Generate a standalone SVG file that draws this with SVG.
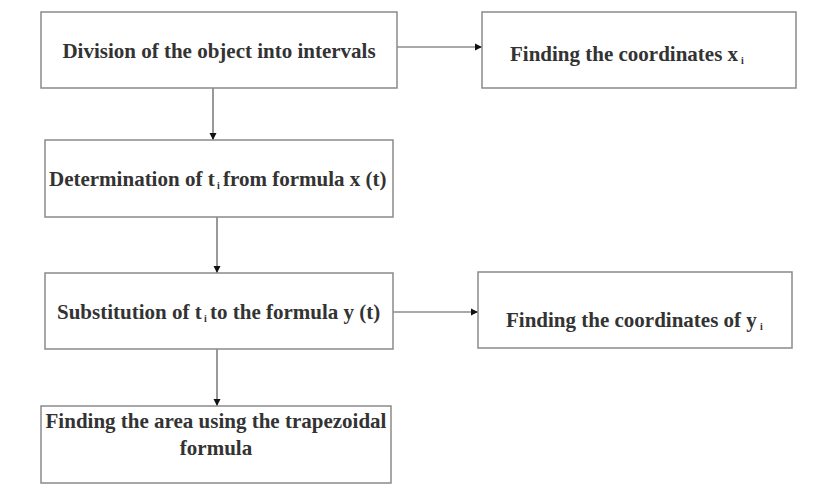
<svg xmlns="http://www.w3.org/2000/svg" width="817" height="487" viewBox="0 0 817 487">
<defs>
<marker id="ah" markerWidth="8" markerHeight="8" refX="7" refY="4" orient="auto" markerUnits="userSpaceOnUse">
<path d="M0,0.5 L7,4 L0,7.5 Z" fill="#111"/>
</marker>
<style>
.box{fill:#fff;stroke:#8a8a8a;stroke-width:1.5}
.lbl{font-family:"Liberation Serif","DejaVu Serif",serif;font-size:21px;font-weight:bold;fill:#333}
.sub{font-family:"Liberation Serif","DejaVu Serif",serif;font-size:10px;font-weight:bold;fill:#333}
.mid{text-anchor:middle}
.con{stroke:#555;stroke-width:1.2;fill:none;marker-end:url(#ah)}
</style>
</defs>
<rect width="817" height="487" fill="#fff"/>
<g id="connectors">
<line class="con" x1="397" y1="47" x2="482" y2="47"/>
<line class="con" x1="213" y1="88" x2="213" y2="140"/>
<line class="con" x1="217" y1="217" x2="217" y2="273"/>
<line class="con" x1="393" y1="312" x2="478" y2="312"/>
<line class="con" x1="217" y1="349" x2="217" y2="406"/>
</g>
<g id="n1">
<rect class="box" x="41" y="12" width="356" height="76"/>
<text class="lbl mid" x="219" y="58">Division of the object into intervals</text>
</g>
<g id="n2">
<rect class="box" x="482" y="12" width="314" height="76"/>
<text class="lbl" x="510" y="61">Finding the coordinates x</text>
<text class="sub" x="741" y="64">i</text>
</g>
<g id="n3">
<rect class="box" x="45" y="140" width="348" height="77"/>
<text class="lbl" x="49" y="186">Determination of t</text>
<text class="sub" x="217" y="189">i</text>
<text class="lbl" x="223" y="186">from formula x (t)</text>
</g>
<g id="n4">
<rect class="box" x="45" y="273" width="348" height="76"/>
<text class="lbl" x="57" y="319">Substitution of t</text>
<text class="sub" x="204" y="322">i</text>
<text class="lbl" x="210" y="319">to the formula y (t)</text>
</g>
<g id="n5">
<rect class="box" x="478" y="272" width="314" height="76"/>
<text class="lbl" x="506" y="327">Finding the coordinates of y</text>
<text class="sub" x="760" y="330">i</text>
</g>
<g id="n6">
<rect class="box" x="41" y="406" width="350" height="77"/>
<text class="lbl mid" x="216" y="428">Finding the area using the trapezoidal</text>
<text class="lbl mid" x="216" y="455">formula</text>
</g>
</svg>
